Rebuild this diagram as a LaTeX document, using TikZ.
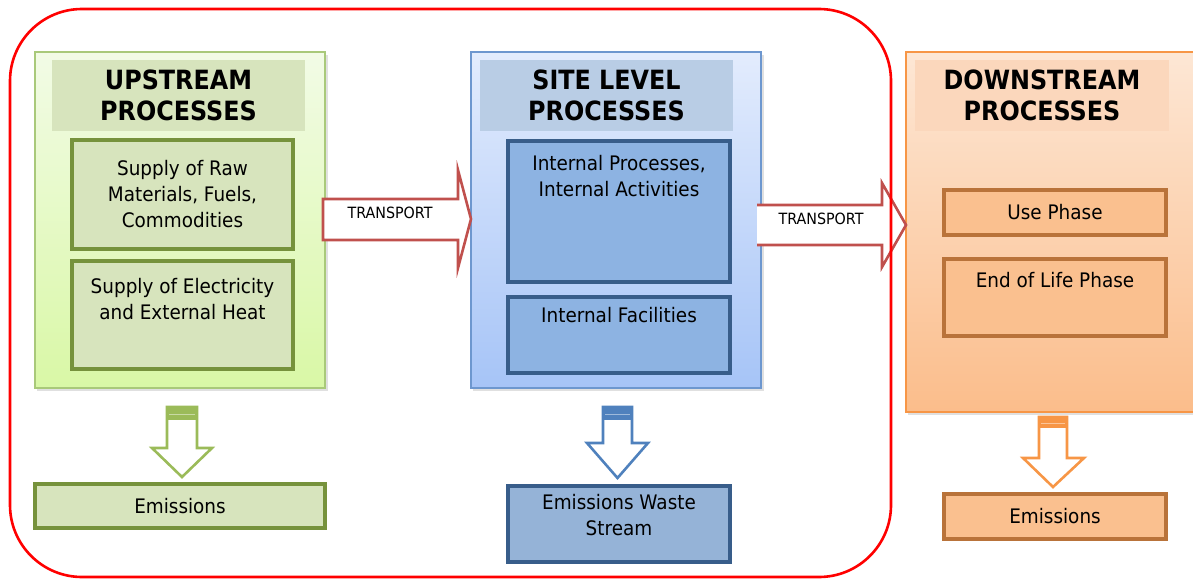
\documentclass[tikz,border=0pt]{standalone}
\usepackage{fontspec}
\setmainfont{DejaVu Sans}[FakeStretch=0.92]
\newfontfamily\headfont{DejaVu Sans}[FakeStretch=0.9]
\usetikzlibrary{calc}

% palette
\definecolor{upTop}{HTML}{F2FBE6}
\definecolor{upBot}{HTML}{D9F8A6}
\definecolor{upEdge}{HTML}{A9C97A}
\definecolor{upFill}{HTML}{D7E4BD}
\definecolor{upDark}{HTML}{76923C}
\definecolor{upArrow}{HTML}{9BBB59}
\definecolor{siteTop}{HTML}{E3ECFD}
\definecolor{siteBot}{HTML}{A6C4F7}
\definecolor{siteEdge}{HTML}{6D97CF}
\definecolor{siteHead}{HTML}{B9CDE5}
\definecolor{siteFill}{HTML}{8DB3E2}
\definecolor{siteWaste}{HTML}{95B3D7}
\definecolor{siteDark}{HTML}{385D8A}
\definecolor{siteArrow}{HTML}{4F81BD}
\definecolor{dnTop}{HTML}{FDE7D5}
\definecolor{dnBot}{HTML}{FBBD8B}
\definecolor{dnEdge}{HTML}{F79646}
\definecolor{dnHead}{HTML}{FBD7BC}
\definecolor{dnFill}{HTML}{FAC08F}
\definecolor{dnDark}{HTML}{B9733A}
\definecolor{trArrow}{HTML}{C0504D}
\definecolor{frameRed}{HTML}{FF0000}

\tikzset{
  panel/.style={anchor=north west, inner sep=0pt, outer sep=0pt, line width=1.3pt},
  headbox/.style={anchor=north west, inner sep=0pt, outer sep=0pt, align=center,
    font=\headfont\bfseries\fontsize{26.5}{31.5}\selectfont},
  procbox/.style={anchor=north west, inner sep=0pt, outer sep=0pt, line width=3.2pt,
    align=center, font=\fontsize{20}{26}\selectfont},
  boxtext/.style={anchor=north, inner sep=0pt, align=center,
    font=\fontsize{20}{26}\selectfont},
  transport/.style={fill=white, draw=trArrow, line width=2.6pt, line join=miter},
  translabel/.style={inner sep=0pt, font=\fontsize{15.5}{18}\selectfont},
  outflow/.style={fill=white, line width=2.6pt, line join=miter},
}

\begin{document}
\begin{tikzpicture}[x=1pt,y=-1pt]
\useasboundingbox (0,0) rectangle (1193,578);
\clip (0,0) rectangle (1193,578);

% ---------- upstream ----------
\fill[black, opacity=0.12] (37,55) rectangle (328,391);
\node[panel, draw=upEdge, top color=upTop, bottom color=upBot,
      minimum width=290pt, minimum height=336pt] (up) at (35,52) {};
\node[headbox, fill=upFill, minimum width=253pt, minimum height=71pt] (uphead) at (52,60)
  {UPSTREAM\\PROCESSES};
\node[procbox, draw=upDark, fill=upFill, minimum width=221pt, minimum height=109pt] (raw) at (72,140)
  {Supply of Raw\\Materials, Fuels,\\Commodities};
\node[procbox, draw=upDark, fill=upFill, minimum width=221pt, minimum height=108pt] (elec) at (72,261) {};
\node[boxtext] at ($(elec.north)+(0,17)$) {Supply of Electricity\\and External Heat};

% ---------- site level ----------
\fill[black, opacity=0.12] (473,55) rectangle (764,391);
\node[panel, draw=siteEdge, top color=siteTop, bottom color=siteBot,
      minimum width=290pt, minimum height=336pt] (site) at (471,52) {};
\node[headbox, fill=siteHead, minimum width=253pt, minimum height=71pt] (sitehead) at (480,60)
  {SITE LEVEL\\PROCESSES};
\node[procbox, draw=siteDark, fill=siteFill, minimum width=222pt, minimum height=141pt] (intproc) at (508,141) {};
\node[boxtext] at ($(intproc.north)+(0,14)$) {Internal Processes,\\Internal Activities};
\node[procbox, draw=siteDark, fill=siteFill, minimum width=222pt, minimum height=76pt] (intfac) at (508,297) {};
\node[boxtext] at ($(intfac.north)+(0,10)$) {Internal Facilities};

% ---------- downstream ----------
\fill[black, opacity=0.12] (908,55) rectangle (1200,415);
\node[panel, draw=dnEdge, top color=dnTop, bottom color=dnBot,
      minimum width=300pt, minimum height=360pt] (down) at (906,52) {};
\node[headbox, fill=dnHead, minimum width=254pt, minimum height=71pt] (downhead) at (915,60)
  {DOWNSTREAM\\PROCESSES};
\node[procbox, draw=dnDark, fill=dnFill, minimum width=222pt, minimum height=45pt] (use) at (944,190)
  {Use Phase};
\node[procbox, draw=dnDark, fill=dnFill, minimum width=222pt, minimum height=77pt] (eol) at (944,259) {};
\node[boxtext] at ($(eol.north)+(0,13)$) {End of Life Phase};

% ---------- emission boxes ----------
\node[procbox, draw=upDark, fill=upFill, minimum width=290pt, minimum height=44pt] (emUp) at (35,484)
  {Emissions};
\node[procbox, draw=siteDark, fill=siteWaste, minimum width=222pt, minimum height=76pt] (emSite) at (508,486) {};
\node[boxtext] at ($(emSite.north)+(0,8)$) {Emissions Waste\\Stream};
\node[procbox, draw=dnDark, fill=dnFill, minimum width=222pt, minimum height=45pt] (emDown) at (944,494)
  {Emissions};

% ---------- transport arrows ----------
\draw[transport] (323,199) -- (458,199) -- (458,170) -- (site.west |- 0,219)
  -- (458,268) -- (458,240) -- (323,240) -- cycle;
\node[translabel] at (390,213) {TRANSPORT};

\fill[white] (757,205) -- (882,205) -- (882,183) -- (down.west |- 0,225)
  -- (882,267) -- (882,245) -- (757,245) -- cycle;
\draw[transport, fill=none] (757,205) -- (882,205) -- (882,183) -- (down.west |- 0,225)
  -- (882,267) -- (882,245) -- (757,245);
\node[translabel] at (821,219) {TRANSPORT};

% ---------- outflow arrows ----------
\draw[outflow, draw=upArrow] (167,407) -- (197,407) -- (197,448) -- (212,448)
  -- (182,477) -- (152,448) -- (167,448) -- cycle;
\fill[upArrow] (167,407) rectangle (197,420);
\draw[upArrow!55!white, line width=1pt] (169,414) -- (195,414);

\draw[outflow, draw=siteArrow] (603,407) -- (632,407) -- (632,443) -- (648,443)
  -- (617.5,478) -- (587,443) -- (603,443) -- cycle;
\fill[siteArrow] (603,407) rectangle (632,420);
\draw[siteArrow!55!white, line width=1pt] (605,414) -- (630,414);

\draw[outflow, draw=dnEdge] (1039,417) -- (1067,417) -- (1067,458) -- (1084,458)
  -- (1053,487) -- (1023,458) -- (1039,458) -- cycle;
\fill[dnEdge] (1039,417) rectangle (1067,428);
\draw[dnEdge!55!white, line width=1pt] (1041,423) -- (1065,423);

% ---------- enclosing frame ----------
\draw[frameRed, line width=2.6pt, rounded corners=72pt] (10,9) rectangle (891,577);
\end{tikzpicture}
\end{document}
